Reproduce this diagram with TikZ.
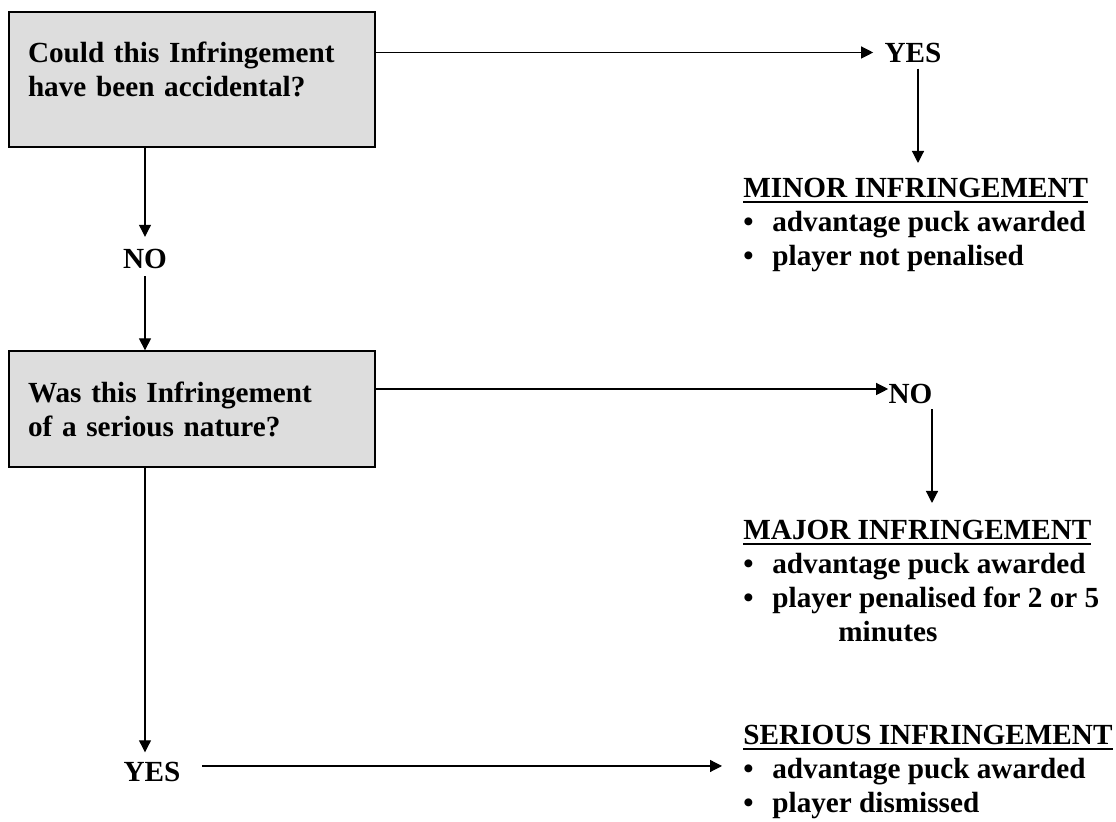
\documentclass[tikz,border=0pt]{standalone}
\usepackage{fontspec}
\setmainfont{Liberation Serif}
\usetikzlibrary{arrows.meta, positioning}
\definecolor{boxgray}{RGB}{221,221,221}
\newcommand{\bul}[1]{\makebox[14.5pt][l]{\textbullet}#1}
\newcommand{\outhead}[1]{\setbox0\hbox{#1}\rlap{\rule[-2.4pt]{\wd0}{0.9pt}}\box0}

\begin{document}
\begin{tikzpicture}[x=0.5pt, y=-0.5pt,
    every node/.style={font=\fontsize{14.6}{17}\selectfont\bfseries},
    question/.style={draw, line width=0.65pt, fill=boxgray, align=left,
      text width=164pt, inner xsep=9.5pt, minimum height=#1},
    answer/.style={inner sep=0pt},
    outcome/.style={align=left, inner sep=0pt, anchor=north west},
    flow/.style={line width=0.6pt, -{Triangle[length=6pt, width=6pt]}}]
  \useasboundingbox (0,0) rectangle (1116,822);

  \node[question=67.5pt] (accident) at (192,79.5)
    {Could this Infringement\\have been accidental?\\[-7pt]\mbox{}};
  \node[question=58pt] (nature) at (192,409)
    {Was this Infringement\\of a serious nature?};

  \node[answer] (yesA) at (913,52.5) {YES};
  \node[answer] (noA) at (145,259) {NO};
  \node[answer] (noB) at (910.5,394) {NO};
  \node[answer] (yesB) at (152,771.5) {YES};

  \node[outcome] (minor) at (743,178)
    {\outhead{MINOR INFRINGEMENT}\\\bul{advantage puck awarded}\\\bul{player not penalised}};
  \node[outcome] (major) at (743,520)
    {\outhead{MAJOR INFRINGEMENT}\\\bul{advantage puck awarded}\\\bul{player penalised for 2 or 5}\\\hspace*{47.5pt}minutes};
  \node[outcome] (dismiss) at (743,725)
    {\outhead{SERIOUS INFRINGEMENT}\\\bul{advantage puck awarded}\\\bul{player dismissed}};

  \path[flow]
    (accident.east |- yesA.west) edge[shorten >=5.5pt] (yesA.west)
    ([xshift=2.5pt]yesA.south) edge[shorten <=3pt, shorten >=7.5pt] ([xshift=2.5pt]yesA.south |- minor.north)
    (accident.south -| noA) edge[shorten >=6pt] (noA.north)
    (noA.south) edge[shorten <=3.5pt] (noA |- nature.north)
    ([yshift=2.5pt]noB.west -| nature.east) edge ([yshift=2.5pt]noB.west)
    ([xshift=10.75pt]noB.south) edge[shorten <=2.5pt, shorten >=8.5pt] ([xshift=10.75pt]noB.south |- major.north)
    (nature.south -| noA) edge[shorten >=4.5pt] (noA |- yesB.north)
    ([yshift=2.75pt]yesB.east) edge[shorten <=10.7pt, shorten >=10.5pt] ([yshift=2.75pt]yesB.east -| dismiss.west);
\end{tikzpicture}
\end{document}
